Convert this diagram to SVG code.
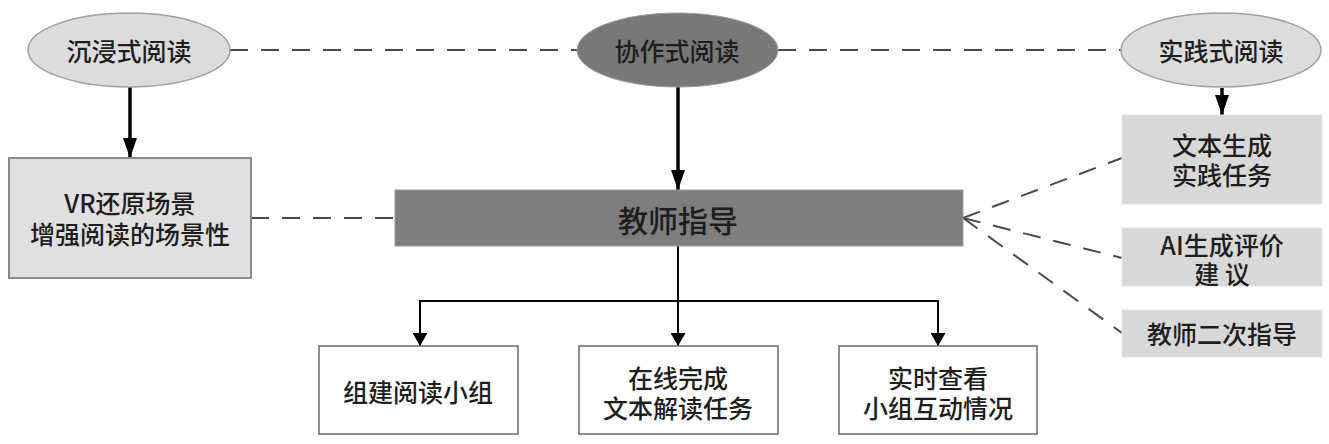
<svg xmlns="http://www.w3.org/2000/svg" width="1329" height="444" viewBox="0 0 1329 444">
<style>
text{font-family:"Noto Sans CJK SC","Noto Sans",sans-serif;fill:#1e1e1e;text-anchor:middle;dominant-baseline:central;font-weight:500}
.t26{font-size:25px}
.t30{font-size:30px}
.dash{fill:none;stroke:#4a4a4a;stroke-width:2;stroke-dasharray:18 13}
.solid{fill:none;stroke:#000}
.light{fill:#dcdcdc;stroke:#a0a0a0;stroke-width:1.5}
.rbox{fill:#d8d8d8;stroke:#e4e4e4;stroke-width:1}
.wbox{fill:#fff;stroke:#6a6a6a;stroke-width:1.5}
</style>
<defs>
<marker id="big" markerUnits="userSpaceOnUse" viewBox="0 0 20 14" refX="20" refY="7" markerWidth="20" markerHeight="14" orient="auto"><path d="M0,0 L20,7 L0,14 Z" fill="#000"/></marker>
<marker id="small" markerUnits="userSpaceOnUse" viewBox="0 0 13 15" refX="13" refY="7.5" markerWidth="13" markerHeight="15" orient="auto"><path d="M0,0 L13,7.5 L0,15 Z" fill="#000"/></marker>
</defs>
<rect width="1329" height="444" fill="#fff"/>
<g id="connectors">
<line class="dash" x1="230" y1="50" x2="577" y2="50"/>
<line class="dash" x1="778" y1="50" x2="1121" y2="50"/>
<line class="dash" x1="251" y1="218" x2="395" y2="218"/>
<line class="dash" x1="963" y1="218" x2="1122" y2="158"/>
<line class="dash" x1="963" y1="218" x2="1122" y2="258"/>
<line class="dash" x1="963" y1="218" x2="1122" y2="333"/>
<line class="solid" stroke-width="3.5" x1="130" y1="87" x2="130" y2="158" marker-end="url(#big)"/>
<line class="solid" stroke-width="3.5" x1="678" y1="87" x2="678" y2="190" marker-end="url(#big)"/>
<line class="solid" stroke-width="3.5" x1="1222" y1="88" x2="1222" y2="115" marker-end="url(#big)"/>
<line class="solid" stroke-width="2" x1="678" y1="246" x2="678" y2="346" marker-end="url(#small)"/>
<polyline class="solid" stroke-width="2" points="420,346 420,301 938,301 938,346"/>
<line class="solid" stroke-width="2" x1="420" y1="320" x2="420" y2="346" marker-end="url(#small)"/>
<line class="solid" stroke-width="2" x1="938" y1="320" x2="938" y2="346" marker-end="url(#small)"/>
</g>
<g id="n-chenjin">
<ellipse class="light" cx="129" cy="50" rx="101" ry="37"/>
<text class="t26" x="129" y="50">沉浸式阅读</text>
</g>
<g id="n-xiezuo">
<ellipse cx="677.5" cy="50" rx="100.5" ry="37" fill="#787878" stroke="#9a9a9a" stroke-width="1"/>
<text class="t26" x="677" y="50">协作式阅读</text>
</g>
<g id="n-shijian">
<ellipse class="light" cx="1221" cy="50" rx="100" ry="37" stroke="#e0e0e0"/>
<text class="t26" x="1221" y="50">实践式阅读</text>
</g>
<g id="n-vr">
<rect x="9" y="158" width="242" height="120" fill="#e0e0e0" stroke="#8a8a8a" stroke-width="2"/>
<text class="t26"><tspan x="130" y="202">VR还原场景</tspan><tspan x="130" y="233">增强阅读的场景性</tspan></text>
</g>
<g id="n-jiaoshi">
<rect x="395" y="190" width="568" height="56" fill="#7e7e7e" stroke="#9a9a9a" stroke-width="1"/>
<text class="t30" x="678" y="219">教师指导</text>
</g>
<g id="n-wenben">
<rect class="rbox" x="1122" y="115" width="200" height="89"/>
<text class="t26"><tspan x="1222" y="144">文本生成</tspan><tspan x="1222" y="174">实践任务</tspan></text>
</g>
<g id="n-ai">
<rect class="rbox" x="1122" y="228" width="200" height="58"/>
<text class="t26"><tspan x="1222" y="244">AI生成评价</tspan><tspan x="1222" y="273">建 议</tspan></text>
</g>
<g id="n-erci">
<rect class="rbox" x="1122" y="310" width="200" height="47"/>
<text class="t26" x="1222" y="333">教师二次指导</text>
</g>
<g id="n-zujian">
<rect class="wbox" x="319" y="346" width="199" height="88"/>
<text class="t26" x="418" y="391">组建阅读小组</text>
</g>
<g id="n-zaixian">
<rect class="wbox" x="579" y="346" width="199" height="88"/>
<text class="t26"><tspan x="678" y="377">在线完成</tspan><tspan x="678" y="407">文本解读任务</tspan></text>
</g>
<g id="n-shishi">
<rect class="wbox" x="839" y="346" width="198" height="88"/>
<text class="t26"><tspan x="938" y="377">实时查看</tspan><tspan x="938" y="407">小组互动情况</tspan></text>
</g>
</svg>
